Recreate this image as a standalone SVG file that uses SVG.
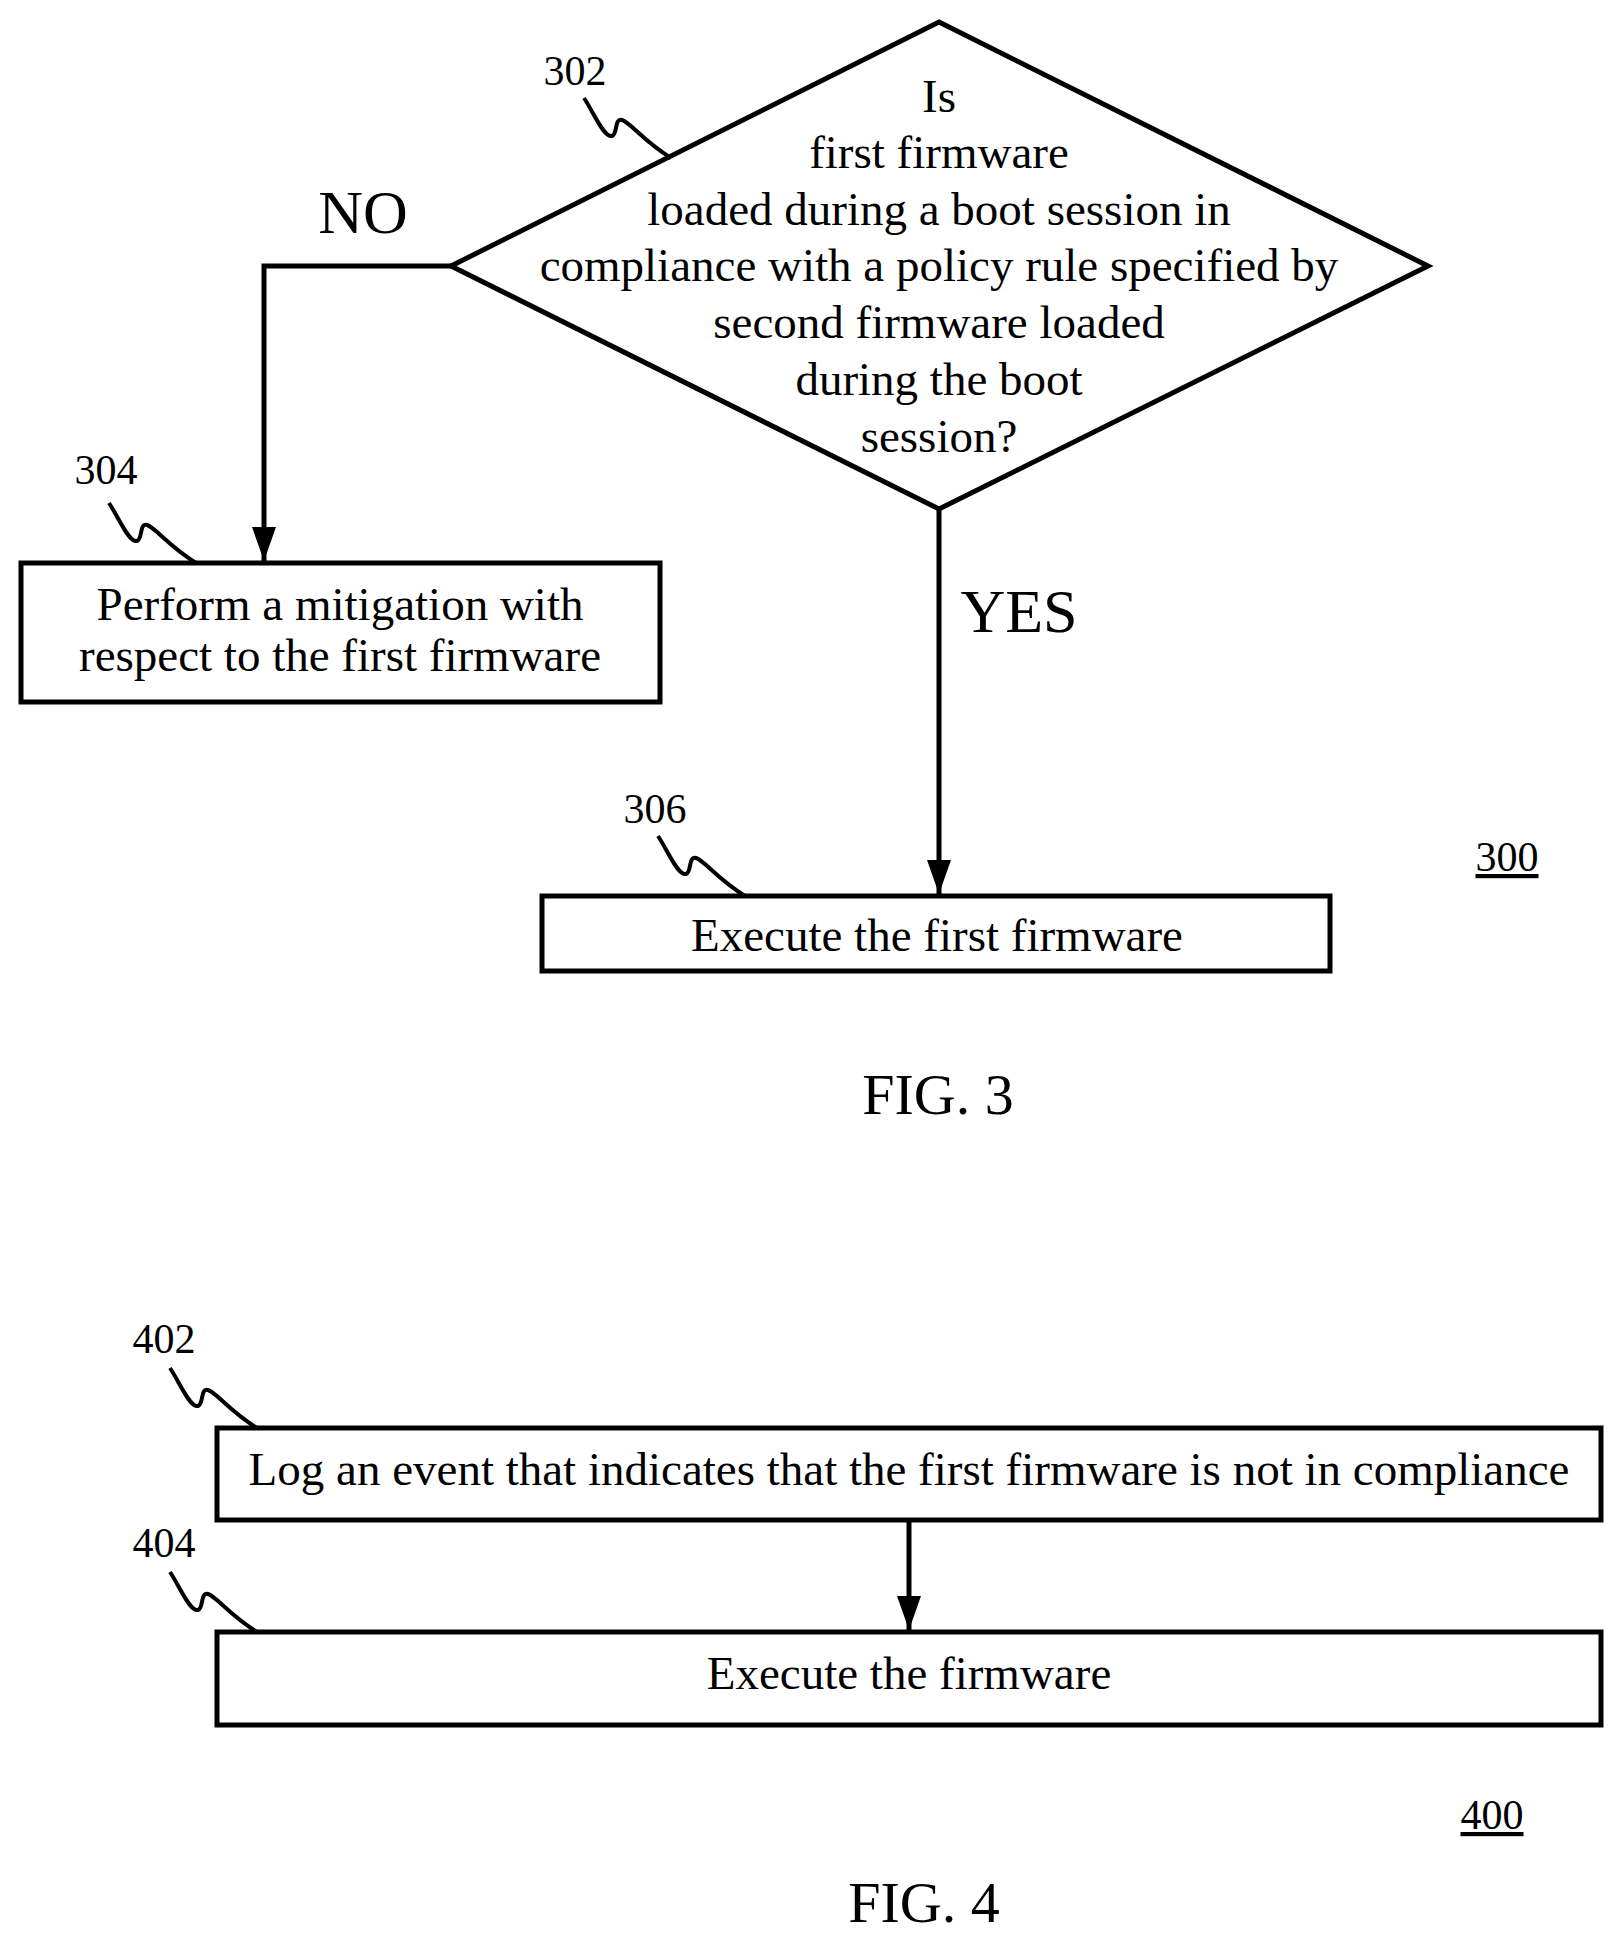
<svg xmlns="http://www.w3.org/2000/svg" width="1615" height="1937" viewBox="0 0 1615 1937">
<style>
text{font-family:"Liberation Serif","Times New Roman",serif;fill:#000;text-anchor:middle}
.t{font-size:47px}.r{font-size:42px}.big{font-size:62px}.fig{font-size:58px}
.s{fill:#fff;stroke:#000;stroke-width:5}
.l{fill:none;stroke:#000;stroke-width:5}
.q{fill:none;stroke:#000;stroke-width:4}
</style>
<defs>
<marker id="ah" viewBox="0 0 34 24" refX="34" refY="12" markerWidth="34" markerHeight="24" markerUnits="userSpaceOnUse" orient="auto"><path d="M0,0 L34,12 L0,24z" fill="#000"/></marker></defs>
<rect width="1615" height="1937" fill="#fff"/>
<g id="connectors">
<path class="l" d="M451,266 H264 V561" marker-end="url(#ah)"/>
<path class="l" d="M939,509 V894" marker-end="url(#ah)"/>
<path class="l" d="M909,1520 V1630" marker-end="url(#ah)"/>
<text class="big" x="363" y="233">NO</text>
<text class="big" x="1019" y="632">YES</text>
</g>
<g id="n302">
<polygon class="s" points="939,22 1428,266 939,509 451,266"/>
<text class="t" x="939" y="112">Is</text>
<text class="t" x="939" y="168">first firmware</text>
<text class="t" x="939" y="225">loaded during a boot session in</text>
<text class="t" x="939" y="281">compliance with a policy rule specified by</text>
<text class="t" x="939" y="338">second firmware loaded</text>
<text class="t" x="939" y="395">during the boot</text>
<text class="t" x="939" y="452">session?</text>
<text class="r" x="575" y="85">302</text>
<path class="q" d="M584,98 c10,15 20,40 28,38 c6,-2 2,-18 10,-16 c8,2 20,20 49,38"/>
</g>
<g id="n304">
<rect class="s" x="21" y="563" width="639" height="139"/>
<text class="t" x="340" y="620">Perform a mitigation with</text>
<text class="t" x="340" y="671">respect to the first firmware</text>
<text class="r" x="106" y="484">304</text>
<path class="q" d="M109,503 c10,15 20,40 28,38 c6,-2 2,-18 10,-16 c8,2 20,20 49,38"/>
</g>
<g id="n306">
<rect class="s" x="542" y="896" width="788" height="75"/>
<text class="t" x="937" y="951">Execute the first firmware</text>
<text class="r" x="655" y="823">306</text>
<path class="q" d="M658,836 c10,15 20,40 28,38 c6,-2 2,-18 10,-16 c8,2 20,20 49,38"/>
</g>
<text class="r" x="1507" y="871" text-decoration="underline">300</text>
<text class="fig" x="938" y="1114">FIG. 3</text>
<g id="n402">
<rect class="s" x="217" y="1428" width="1384" height="92"/>
<text class="t" x="909" y="1485">Log an event that indicates that the first firmware is not in compliance</text>
<text class="r" x="164" y="1353">402</text>
<path class="q" d="M170,1368 c10,15 20,40 28,38 c6,-2 2,-18 10,-16 c8,2 20,20 49,38"/>
</g>
<g id="n404">
<rect class="s" x="217" y="1632" width="1384" height="93"/>
<text class="t" x="909" y="1689">Execute the firmware</text>
<text class="r" x="164" y="1557">404</text>
<path class="q" d="M170,1572 c10,15 20,40 28,38 c6,-2 2,-18 10,-16 c8,2 20,20 49,38"/>
</g>
<text class="r" x="1492" y="1829" text-decoration="underline">400</text>
<text class="fig" x="924" y="1922">FIG. 4</text>
</svg>
